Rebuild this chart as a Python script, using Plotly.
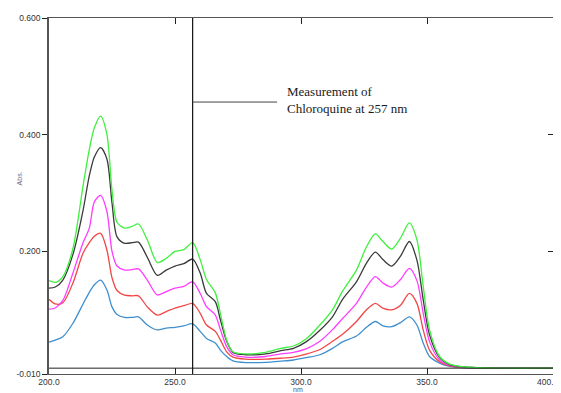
import plotly.graph_objects as go

wavelength = [200, 202.5, 205.5, 209.5, 213.5, 216, 218, 220.5, 223, 225, 227, 230, 233, 235.5, 239, 243,
              246.5, 250, 253.5, 257, 260, 262.5, 266, 268, 270.5, 273, 278, 286, 292, 297, 302, 307.5,
              312.5, 316.5, 322, 326, 329.5, 332.5, 336, 339.5, 343, 346, 348.5, 351, 355, 359, 365, 380, 400]

abs_green = [0.150, 0.147, 0.157, 0.205, 0.312, 0.375, 0.412, 0.432, 0.400, 0.305, 0.250, 0.240, 0.243, 0.247,
             0.220, 0.181, 0.188, 0.200, 0.203, 0.215, 0.186, 0.152, 0.129, 0.094, 0.048, 0.028, 0.0245, 0.027,
             0.034, 0.038, 0.050, 0.074, 0.100, 0.132, 0.168, 0.208, 0.230, 0.217, 0.204, 0.223, 0.249, 0.220,
             0.140, 0.066, 0.020, 0.007, 0.002, 0.0, 0.0]
abs_black = [0.137, 0.139, 0.151, 0.195, 0.270, 0.330, 0.362, 0.378, 0.358, 0.283, 0.225, 0.214, 0.215, 0.216,
             0.190, 0.159, 0.168, 0.175, 0.179, 0.187, 0.163, 0.128, 0.114, 0.083, 0.046, 0.027, 0.023, 0.0245,
             0.030, 0.034, 0.045, 0.065, 0.088, 0.118, 0.148, 0.180, 0.199, 0.186, 0.175, 0.192, 0.217, 0.185,
             0.117, 0.057, 0.018, 0.006, 0.002, 0.0, 0.0]
abs_magenta = [0.101, 0.103, 0.116, 0.163, 0.215, 0.240, 0.285, 0.296, 0.268, 0.200, 0.175, 0.168, 0.169, 0.170,
               0.151, 0.1255, 0.131, 0.137, 0.140, 0.148, 0.128, 0.1055, 0.091, 0.066, 0.037, 0.023, 0.019, 0.020,
               0.0245, 0.027, 0.033, 0.046, 0.066, 0.085, 0.111, 0.139, 0.157, 0.146, 0.139, 0.152, 0.171, 0.150,
               0.094, 0.0455, 0.014, 0.005, 0.001, 0.0, 0.0]
abs_red = [0.118, 0.110, 0.112, 0.146, 0.197, 0.215, 0.226, 0.231, 0.202, 0.155, 0.133, 0.125, 0.124, 0.124,
           0.105, 0.091, 0.097, 0.103, 0.107, 0.111, 0.094, 0.074, 0.063, 0.0485, 0.028, 0.019, 0.0155, 0.0155,
           0.017, 0.019, 0.024, 0.032, 0.046, 0.058, 0.080, 0.100, 0.111, 0.103, 0.100, 0.108, 0.128, 0.111,
           0.0655, 0.031, 0.011, 0.004, 0.001, 0.0, 0.0]
abs_blue = [0.0445, 0.048, 0.054, 0.077, 0.110, 0.130, 0.143, 0.151, 0.134, 0.105, 0.092, 0.087, 0.087, 0.088,
            0.074, 0.0655, 0.0685, 0.070, 0.0724, 0.076, 0.063, 0.051, 0.043, 0.031, 0.020, 0.0125, 0.0096, 0.010,
            0.012, 0.014, 0.018, 0.023, 0.034, 0.045, 0.055, 0.070, 0.080, 0.0725, 0.071, 0.078, 0.088, 0.074,
            0.043, 0.020, 0.0086, 0.003, 0.001, 0.0, 0.0]

x_ticks = [200, 250, 300, 350, 400]
x_ticktext = ["200.0", "250.0", "300.0", "350.0", "400.0"]
y_ticks = [-0.01, 0.2, 0.4, 0.6]
y_ticktext = ["-0.010", "0.200", "0.400", "0.600"]
measure_nm = 257
note_text = "Measurement of<br>Chloroquine at 257 nm"

series = [
    (abs_blue, "#3f8fcf"),
    (abs_red, "#f24646"),
    (abs_magenta, "#ff3cff"),
    (abs_black, "#3a3a3a"),
    (abs_green, "#3ff03f"),
]

fig = go.Figure()
for vals, col in series:
    fig.add_trace(go.Scatter(x=wavelength, y=vals, mode="lines",
                             line=dict(color=col, width=1.3, shape="spline", smoothing=0.8),
                             showlegend=False, hoverinfo="skip"))

# invisible trace on right axis to show mirrored inside ticks
fig.add_trace(go.Scatter(x=[200], y=[0], yaxis="y2", mode="markers", marker=dict(opacity=0),
                         showlegend=False, hoverinfo="skip"))

axis_font = dict(family="Liberation Sans, Arial", size=8.5, color="#333")

# last x label drawn as an annotation so it can sit slightly left of its tick (as in the reference)
shown_ticktext = x_ticktext[:-1] + [""]

# the page body adds an 8px offset, so the figure is 8px smaller and margins shifted
fig.update_layout(
    width=553, height=385,
    margin=dict(l=41, r=8, t=10, b=19, autoexpand=False),
    paper_bgcolor="white", plot_bgcolor="white",
    xaxis=dict(range=[200, 400], tickvals=x_ticks, ticktext=shown_ticktext, ticks="inside", ticklen=6,
               tickcolor="#222", showline=True, linecolor="#555", linewidth=1, mirror="ticks",
               showgrid=False, zeroline=False, tickfont=axis_font, automargin=False,
               ticklabeloverflow="allow", ticklabelstandoff=0),
    yaxis=dict(range=[-0.01, 0.6], tickvals=y_ticks, ticktext=y_ticktext, ticks="outside", ticklen=5,
               tickcolor="#222", showline=True, linecolor="#555", linewidth=1.5, mirror=True,
               showgrid=False, zeroline=False, tickfont=axis_font, automargin=False,
               ticklabeloverflow="allow"),
    yaxis2=dict(range=[-0.01, 0.6], overlaying="y", side="right", tickvals=y_ticks, ticks="inside",
                ticklen=5, tickcolor="#222", showticklabels=False, showgrid=False, zeroline=False,
                showline=False, automargin=False),
    shapes=[
        dict(type="line", xref="x", yref="y", x0=200, x1=400, y0=0, y1=0,
             line=dict(color="#222", width=1)),
        dict(type="line", xref="x", yref="y", x0=measure_nm, x1=measure_nm, y0=-0.01, y1=0.6,
             line=dict(color="#111", width=1.2)),
        dict(type="line", xref="x", yref="y", x0=measure_nm, x1=290.5, y0=0.456, y1=0.456,
             line=dict(color="#444", width=1)),
    ],
    annotations=[
        dict(text=note_text, xref="x", yref="y", x=293.5, y=0.459, xanchor="left", yanchor="middle",
             showarrow=False, align="left",
             font=dict(family="Liberation Serif, Times New Roman", size=13, color="#1a1a1a")),
        dict(text="Abs.", xref="paper", yref="paper", x=-0.07, y=0.55, textangle=-90,
             showarrow=False, font=dict(family="Liberation Sans, Arial", size=7, color="#6a6a80")),
        dict(text="nm", xref="paper", yref="paper", x=0.495, y=-0.043, yanchor="middle",
             showarrow=False, font=dict(family="Liberation Sans, Arial", size=7, color="#555")),
        dict(text=x_ticktext[-1], xref="x", yref="paper", x=x_ticks[-1], y=-0.022, yanchor="middle",
             xanchor="center", xshift=-5, showarrow=False, font=axis_font),
    ],
)

fig.write_html("out.html")
